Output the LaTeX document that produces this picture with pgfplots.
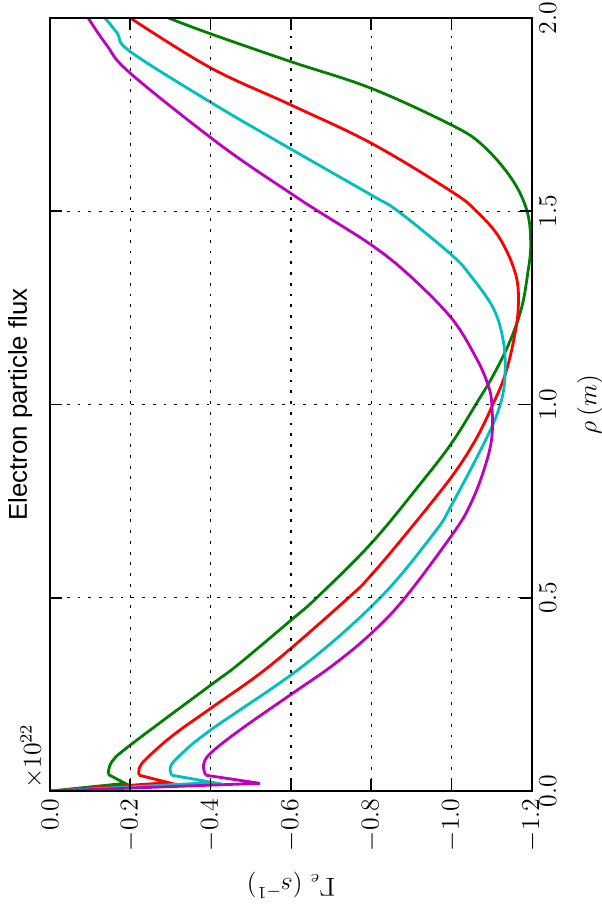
\documentclass[border=0pt]{standalone}
\usepackage{fontspec}
\usepackage{pgfplots}
\pgfplotsset{compat=1.18}
\newfontfamily\titlefont{Liberation Sans}
\definecolor{mblue}{rgb}{0,0,1}
\definecolor{mgreen}{rgb}{0,0.5,0}
\definecolor{mred}{rgb}{1,0,0}
\definecolor{mcyan}{rgb}{0,0.75,0.75}
\definecolor{mmag}{rgb}{0.75,0,0.75}
\begin{document}
\begin{tikzpicture}[rotate=90, transform shape]
\begin{axis}[
  at={(0,0)}, anchor=south west,
  scale only axis, width=359.5pt, height=224.1pt,
  xmin=0, xmax=2, ymin=-1.2, ymax=0,
  xtick={0,0.5,1,1.5,2},
  ytick={-1.2,-1.0,-0.8,-0.6,-0.4,-0.2,0},
  scaled ticks=false,
  xticklabel style={/pgf/number format/fixed, /pgf/number format/fixed zerofill, /pgf/number format/precision=1},
  yticklabel style={/pgf/number format/fixed, /pgf/number format/fixed zerofill, /pgf/number format/precision=1},
  tick label style={font=\fontsize{12}{14}\selectfont},
  label style={font=\fontsize{12}{14}\selectfont},
  grid=major,
  major grid style={black, line width=0.6pt, dash pattern=on 1.3pt off 3.7pt},
  axis line style={black, line width=1.3pt},
  tick style={black, line width=0.8pt},
  tick align=inside, major tick length=5.5pt,
  axis on top,
  clip mode=individual,
  xlabel={$\rho\,(m)$},
  ylabel={$\Gamma_e\;(s^{-1})$},
  xlabel style={at={(axis description cs:0.5,-0.1205)}, anchor=center},
  ylabel style={at={(axis description cs:-0.1216,0.5)}, anchor=center},
  title={Electron particle flux},
  title style={font=\titlefont\fontsize{12}{14}\selectfont, at={(axis description cs:0.5,1)}, anchor=base, yshift=4.8pt, inner sep=0pt},
  every axis plot/.append style={line width=1.3pt},
]
\addplot[mblue] coordinates {(0,0) (2,0)};
% green
\addplot[mgreen] coordinates {(0,0) (0.020,-0.187) (0.043,-0.145)};
\addplot[mgreen, smooth, tension=0.6] coordinates {
(0.043,-0.145) (0.076,-0.154) (0.119,-0.2) (0.274,-0.4) (0.326,-0.467)
(0.442,-0.6) (0.5,-0.664) (0.641,-0.8) (0.792,-0.92) (0.900,-1.0)
(1.003,-1.062) (1.076,-1.104) (1.163,-1.145) (1.249,-1.174) (1.335,-1.189)
(1.413,-1.197) (1.5,-1.188) (1.585,-1.149) (1.671,-1.077) (1.723,-1.0)
(1.818,-0.8) (1.887,-0.6) (1.959,-0.4) (2.0,-0.295)};
% red
\addplot[mred] coordinates {(0,0) (0.022,-0.295) (0.041,-0.222)};
\addplot[mred, smooth, tension=0.6] coordinates {
(0.041,-0.222) (0.059,-0.222) (0.085,-0.241) (0.145,-0.307) (0.214,-0.4)
(0.326,-0.55) (0.5,-0.743) (0.559,-0.8) (0.667,-0.888)
(0.813,-1.0) (0.913,-1.062) (1.003,-1.104) (1.076,-1.133) (1.163,-1.154)
(1.249,-1.166) (1.335,-1.160) (1.430,-1.120) (1.5,-1.062) (1.551,-1.0)
(1.676,-0.8) (1.775,-0.6) (1.871,-0.4) (2.0,-0.2)};
% cyan
\addplot[mcyan] coordinates {(0,0) (0.022,-0.407) (0.041,-0.303)};
\addplot[mcyan, smooth, tension=0.6] coordinates {
(0.041,-0.303) (0.063,-0.300) (0.093,-0.324) (0.158,-0.4)
(0.326,-0.633) (0.5,-0.822) (0.667,-0.956) (0.740,-1.0)
(0.913,-1.087) (1.003,-1.122) (1.076,-1.133) (1.163,-1.129) (1.249,-1.104)
(1.335,-1.046) (1.387,-1.0) (1.5,-0.867) (1.542,-0.8) (1.671,-0.583)
(1.782,-0.4) (1.913,-0.2) (1.96,-0.168) (2.0,-0.137)};
% magenta
\addplot[mmag] coordinates {(0,0) (0.020,-0.523) (0.041,-0.388)};
\addplot[mmag, smooth, tension=0.6] coordinates {
(0.041,-0.388) (0.067,-0.382) (0.098,-0.4) (0.158,-0.473) (0.25,-0.6)
(0.326,-0.705) (0.408,-0.8) (0.5,-0.884) (0.667,-1.004) (0.740,-1.046)
(0.826,-1.079) (0.913,-1.10) (1.003,-1.10) (1.050,-1.091) (1.119,-1.062)
(1.223,-1.0) (1.335,-0.894) (1.413,-0.8) (1.5,-0.668) (1.546,-0.6)
(1.671,-0.425) (1.857,-0.2) (1.93,-0.141) (2.0,-0.095)};
\node[anchor=south west, inner sep=0pt, xshift=1pt, yshift=3pt] at (rel axis cs:0,1) {\fontsize{12}{14}\selectfont$\times10^{22}$};
\end{axis}
\pgfresetboundingbox
\path (-56.7pt,-32.55pt) rectangle (367.87pt,247.35pt);
\end{tikzpicture}
\end{document}
